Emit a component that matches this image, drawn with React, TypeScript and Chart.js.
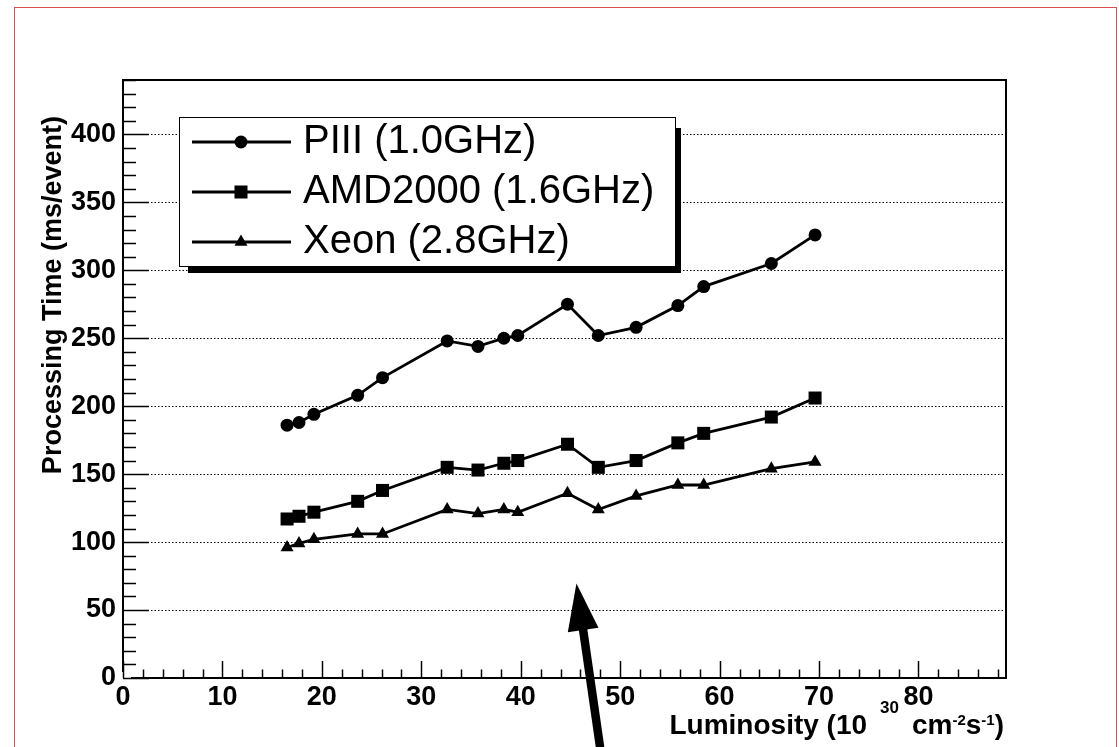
import React, { useEffect, useRef } from "react";
import { Chart, registerables } from "chart.js";

Chart.register(...registerables);

// ---- data ----
const luminosity = [16.5, 17.7, 19.2, 23.6, 26.1, 32.6, 35.7, 38.3, 39.7, 44.7, 47.8, 51.6, 55.8, 58.4, 65.2, 69.6];
const piiiTime = [186, 188, 194, 208, 221, 248, 244, 250, 252, 275, 252, 258, 274, 288, 305, 326];
const amdTime = [117, 119, 122, 130, 138, 155, 153, 158, 160, 172, 155, 160, 173, 180, 192, 206];
const xeonTime = [96, 99, 102, 106, 106, 124, 121, 124, 122, 136, 124, 134, 142, 142, 154, 159];

const seriesLabels = ["PIII (1.0GHz)", "AMD2000 (1.6GHz)", "Xeon (2.8GHz)"];
const seriesMarkers = ["circle", "rect", "triangle"];

const xMin = 0;
const xMax = 88.8;
const xMajorStep = 10;
const xMinorStep = 2;
const yMin = 0;
const yMax = 440;
const yMajorStep = 50;
const yMinorStep = 10;

const yTitle = "Processing Time (ms/event)";
// x title pieces: [text, kind]
const xTitleParts: [string, string][] = [
  ["Luminosity (10", "n"],
  [" ", "gap"],
  ["30", "sup"],
  [" ", "gap"],
  ["cm", "n"],
  ["-2", "sup2"],
  ["s", "n"],
  ["-1", "sup2"],
  [")", "n"],
];

// arrow annotation (data coordinates)
const arrowTip = { x: 45.6, y: 69.5 };
const arrowTail = { x: 48.0, y: -52 };

const FONT = "'Liberation Sans', Arial, Helvetica, sans-serif";

function drawMarker(ctx: CanvasRenderingContext2D, kind: string, x: number, y: number) {
  ctx.beginPath();
  if (kind === "circle") {
    ctx.arc(x, y, 6.5, 0, Math.PI * 2);
  } else if (kind === "rect") {
    ctx.rect(x - 6.5, y - 6.5, 13, 13);
  } else {
    ctx.moveTo(x, y - 7.5);
    ctx.lineTo(x + 6.5, y + 3.75);
    ctx.lineTo(x - 6.5, y + 3.75);
    ctx.closePath();
  }
  ctx.fill();
}

const decorPlugin = {
  id: "decor",
  beforeDraw(chart: any) {
    const ctx = chart.ctx as CanvasRenderingContext2D;
    ctx.save();
    ctx.fillStyle = "#ffffff";
    ctx.fillRect(0, 0, chart.width, chart.height);
    ctx.strokeStyle = "rgb(214,80,80)";
    ctx.lineWidth = 1;
    ctx.strokeRect(14.5, 7.5, 1102, 800);
    ctx.restore();
  },
  afterDatasetsDraw(chart: any) {
    const ctx = chart.ctx as CanvasRenderingContext2D;
    const { left, right, top, bottom } = chart.chartArea;
    const xs = chart.scales.x;
    const ys = chart.scales.y;
    ctx.save();
    ctx.strokeStyle = "#000";
    ctx.fillStyle = "#000";

    // frame
    ctx.lineWidth = 2;
    ctx.beginPath();
    ctx.moveTo(left, bottom - 6);
    ctx.lineTo(left, top);
    ctx.lineTo(right, top);
    ctx.lineTo(right, bottom);
    ctx.lineTo(left + 8, bottom);
    ctx.stroke();

    // y ticks (inward)
    ctx.lineWidth = 1.5;
    for (let v = yMin; v <= yMax + 1e-6; v += yMinorStep) {
      const py = Math.round(ys.getPixelForValue(v)) + 0.5;
      const len = v % yMajorStep === 0 ? 26 : 13;
      ctx.beginPath();
      ctx.moveTo(left, py);
      ctx.lineTo(left + len, py);
      ctx.stroke();
    }
    // x ticks (inward)
    for (let v = xMin; v <= xMax + 1e-6; v += xMinorStep) {
      const px = Math.round(xs.getPixelForValue(v)) + 0.5;
      const len = v % xMajorStep === 0 ? 17 : 8.5;
      ctx.beginPath();
      ctx.moveTo(px, bottom);
      ctx.lineTo(px, bottom - len);
      ctx.stroke();
    }

    // legend box with shadow
    const bx = 179, by = 117, bw = 497, bh = 150;
    ctx.fillStyle = "#000";
    ctx.fillRect(bx + 9, by + 11, bw - 4, bh - 5);
    ctx.fillStyle = "#fff";
    ctx.fillRect(bx, by, bw, bh);
    ctx.strokeStyle = "#000";
    ctx.lineWidth = 1;
    ctx.strokeRect(bx + 0.5, by + 0.5, bw - 1, bh - 1);
    chart.data.datasets.forEach((ds: any, i: number) => {
      const ly = by + 25 + i * 50;
      ctx.strokeStyle = "#000";
      ctx.lineWidth = 2.8;
      ctx.beginPath();
      ctx.moveTo(bx + 13, ly);
      ctx.lineTo(bx + 112, ly);
      ctx.stroke();
      ctx.fillStyle = "#000";
      drawMarker(ctx, seriesMarkers[i], bx + 62, ly);
      ctx.font = `40px ${FONT}`;
      ctx.textAlign = "left";
      ctx.textBaseline = "middle";
      ctx.fillText(ds.label, bx + 124, ly);
    });

    ctx.restore();
  },
  afterDraw(chart: any) {
    const ctx = chart.ctx as CanvasRenderingContext2D;
    const { right } = chart.chartArea;
    const xs = chart.scales.x;
    const ys = chart.scales.y;
    ctx.save();
    ctx.fillStyle = "#000";

    // y title
    ctx.save();
    ctx.translate(54, 116);
    ctx.rotate(-Math.PI / 2);
    ctx.font = `bold 27px ${FONT}`;
    ctx.textAlign = "right";
    ctx.textBaseline = "middle";
    ctx.fillText(yTitle, 0, 0);
    ctx.restore();

    // x title (right-aligned at the axis end)
    const fontFor = (k: string) =>
      k === "sup" ? `bold 17px ${FONT}` : k === "sup2" ? `bold 15px ${FONT}` : `bold 28px ${FONT}`;
    const dyFor = (k: string) => (k === "sup" ? -21 : k === "sup2" ? -9 : 0);
    let total = 0;
    const widths = xTitleParts.map(([t, k]) => {
      ctx.font = fontFor(k);
      const w = k === "gap" ? 13 : ctx.measureText(t).width;
      total += w;
      return w;
    });
    let cx = right - 2 - total;
    const baseY = 734;
    ctx.textAlign = "left";
    ctx.textBaseline = "alphabetic";
    xTitleParts.forEach(([t, k], i) => {
      if (k !== "gap") {
        ctx.font = fontFor(k);
        ctx.fillText(t, cx, baseY + dyFor(k));
      }
      cx += widths[i];
    });

    // arrow
    const tx = xs.getPixelForValue(arrowTip.x);
    const ty = ys.getPixelForValue(arrowTip.y);
    const ex = xs.getPixelForValue(arrowTail.x);
    const ey = ys.getPixelForValue(arrowTail.y);
    const dx = ex - tx, dy = ey - ty;
    const L = Math.hypot(dx, dy);
    const ux = dx / L, uy = dy / L;
    const headLen = 47, headHalf = 15.5;
    const hbx = tx + ux * headLen, hby = ty + uy * headLen;
    ctx.strokeStyle = "#000";
    ctx.lineWidth = 8.5;
    ctx.beginPath();
    ctx.moveTo(hbx - ux * 4, hby - uy * 4);
    ctx.lineTo(ex, ey);
    ctx.stroke();
    ctx.beginPath();
    ctx.moveTo(tx, ty);
    ctx.lineTo(hbx - uy * headHalf, hby + ux * headHalf);
    ctx.lineTo(hbx + uy * headHalf, hby - ux * headHalf);
    ctx.closePath();
    ctx.fill();

    ctx.restore();
  },
};

export default function App() {
  const canvasRef = useRef<HTMLCanvasElement | null>(null);

  useEffect(() => {
    if (!canvasRef.current) return;
    const mk = (vals: number[]) => luminosity.map((x, i) => ({ x, y: vals[i] }));
    const seriesValues = [piiiTime, amdTime, xeonTime];
    const radii = [6.5, 9.2, 7.5];
    const chart = new Chart(canvasRef.current, {
      type: "line",
      data: {
        datasets: seriesValues.map((vals, i) => ({
          label: seriesLabels[i],
          data: mk(vals),
          borderColor: "#000",
          backgroundColor: "#000",
          borderWidth: 2.8,
          pointStyle: seriesMarkers[i] as any,
          pointRadius: radii[i],
          pointBorderWidth: 0,
          pointBackgroundColor: "#000",
          fill: false,
          tension: 0,
        })),
      },
      options: {
        animation: false,
        responsive: false,
        devicePixelRatio: 1,
        layout: { padding: { top: 80, right: 113, left: 0, bottom: 0 } },
        plugins: {
          legend: { display: false },
          title: { display: false },
          tooltip: { enabled: false },
        },
        scales: {
          x: {
            type: "linear",
            min: xMin,
            max: xMax,
            afterFit: (s: any) => {
              s.height = 69;
            },
            ticks: {
              stepSize: xMajorStep,
              includeBounds: false,
              color: "#000",
              padding: 3,
              maxRotation: 0,
              font: { family: FONT, size: 27, weight: "bold" },
            },
            grid: { display: false, drawTicks: false },
            border: { display: false },
          },
          y: {
            type: "linear",
            min: yMin,
            max: yMax,
            afterFit: (s: any) => {
              s.width = 123;
            },
            ticks: {
              stepSize: yMajorStep,
              includeBounds: false,
              color: "#000",
              padding: 7,
              font: { family: FONT, size: 27, weight: "bold" },
            },
            grid: {
              drawTicks: false,
              color: (c: any) => (c.tick && c.tick.value === 0 ? "rgba(0,0,0,0)" : "#000"),
              lineWidth: 1,
            },
            border: { display: false, dash: [1.5, 2] },
          },
        },
      },
      plugins: [decorPlugin],
    });
    return () => chart.destroy();
  }, []);

  return (
    <div style={{ position: "absolute", left: 0, top: 0, width: 1119, height: 747, background: "#fff" }}>
      <canvas ref={canvasRef} width={1119} height={747} style={{ display: "block" }} />
    </div>
  );
}
